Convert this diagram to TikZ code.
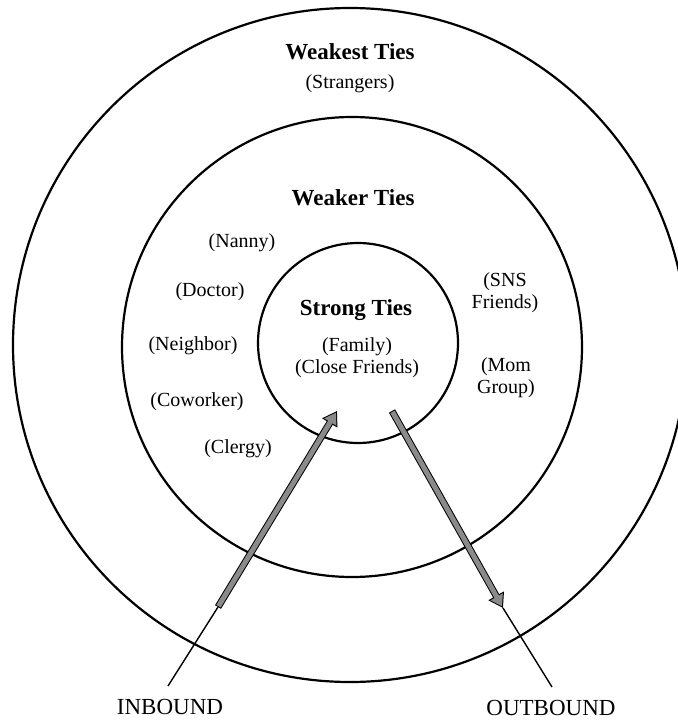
\documentclass[tikz,border=0pt]{standalone}
\usepackage{fontspec}
\setmainfont{Liberation Serif}
\usetikzlibrary{arrows.meta}
\definecolor{shaftgray}{RGB}{138,138,138}
\tikzset{
  ring/.style={draw, circle, line width=2.2pt, inner sep=0pt},
  tiehead/.style={font=\fontsize{23}{26}\selectfont\bfseries},
  tielabel/.style={font=\fontsize{20}{22}\selectfont, align=center, inner sep=1pt},
  flowlabel/.style={font=\fontsize{23}{26}\selectfont},
  feed/.style={line width=1.4pt},
  shaftrim/.style={line width=7pt, -{Triangle[length=14pt,width=17pt]}},
  shaftfill/.style={line width=5pt, draw=shaftgray, shorten <=1pt, shorten >=1.9pt,
    -{Triangle[length=11pt,width=13.4pt]}}
}

\begin{document}
\begin{tikzpicture}[x=1pt, y=-1pt]
\path[use as bounding box, clip] (0,0) rectangle (678,721);
% the three rings
\node[ring, minimum size=674pt] (weakest) at (350,345) {};
\node[ring, minimum size=460pt] (weaker) at (352,347) {};
\node[ring, minimum size=200pt] (strong) at (358,343) {};
% outer ring
\node[tiehead] (weakestT) at (350,52) {Weakest Ties};
\node[tielabel] (strangers) at (350,84) {(Strangers)};
% middle ring
\node[tiehead] (weakerT) at (353,198) {Weaker Ties};
\node[tielabel] (nanny) at (242,243) {(Nanny)};
\node[tielabel] (doctor) at (210,292) {(Doctor)};
\node[tielabel] (neighbor) at (193,346) {(Neighbor)};
\node[tielabel] (coworker) at (197,402) {(Coworker)};
\node[tielabel] (clergy) at (238,449) {(Clergy)};
\node[tielabel] (sns) at (505,293) {(SNS\\Friends)};
\node[tielabel] (mom) at (506,378) {(Mom\\Group)};
% inner ring
\node[tiehead] (strongT) at (356,310) {Strong Ties};
\node[tielabel] (family) at (357,358) {(Family)\\(Close Friends)};
% flows
\node[flowlabel] (inbound) at (170,707) {INBOUND};
\node[flowlabel] (outbound) at (551,708) {OUTBOUND};
\coordinate (inFoot) at (168,686);
\coordinate (inTail) at (218,607);
\coordinate (inTip) at (337,411);
\coordinate (outTail) at (392,411);
\coordinate (outTip) at (503,608);
\coordinate (outFoot) at (552,687);
\draw[feed] (inFoot) -- (inTail);
\draw[shaftrim] (inTail) -- (inTip);
\draw[shaftfill] (inTail) -- (inTip);
\draw[shaftrim] (outTail) -- (outTip);
\draw[shaftfill] (outTail) -- (outTip);
\draw[feed] (outTip) -- (outFoot);
\end{tikzpicture}
\end{document}
